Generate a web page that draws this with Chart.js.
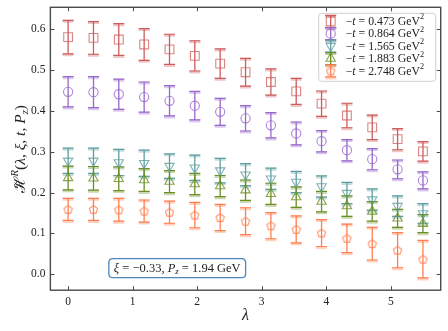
<!DOCTYPE html>
<html>
<head>
<meta charset="utf-8">
<script src="https://cdn.jsdelivr.net/npm/chart.js@4.4.1/dist/chart.umd.min.js"></script>
<style>
  html, body { margin: 0; padding: 0; background: #fff; }
  #wrap { width: 448px; height: 331px; position: relative; }
</style>
</head>
<body>
<div id="wrap"><canvas id="chart"></canvas></div>
<script>
// ----------------- Data -----------------

const lambdas = [0, 0.393, 0.785, 1.178, 1.571, 1.963, 2.356, 2.749, 3.142, 3.534, 3.927, 4.320, 4.712, 5.105, 5.498];

const tValues = ["0.473", "0.864", "1.565", "1.883", "2.748"];

const hR_t0473 = [0.581, 0.579, 0.575, 0.563, 0.551, 0.535, 0.516, 0.495, 0.471, 0.448, 0.418, 0.389, 0.360, 0.331, 0.301];
const err_t0473 = [0.041, 0.040, 0.039, 0.039, 0.037, 0.037, 0.036, 0.034, 0.032, 0.032, 0.031, 0.030, 0.030, 0.026, 0.024];

const hR_t0864 = [0.447, 0.446, 0.441, 0.434, 0.425, 0.413, 0.398, 0.382, 0.365, 0.345, 0.326, 0.304, 0.282, 0.257, 0.230];
const err_t0864 = [0.037, 0.038, 0.037, 0.037, 0.037, 0.035, 0.033, 0.031, 0.031, 0.028, 0.026, 0.026, 0.026, 0.023, 0.021];

const hR_t1565 = [0.278, 0.278, 0.274, 0.272, 0.265, 0.261, 0.254, 0.244, 0.234, 0.226, 0.215, 0.199, 0.183, 0.167, 0.149];
const err_t1565 = [0.031, 0.031, 0.032, 0.032, 0.030, 0.031, 0.030, 0.027, 0.026, 0.026, 0.026, 0.026, 0.026, 0.025, 0.024];

const hR_t1883 = [0.236, 0.235, 0.234, 0.231, 0.227, 0.221, 0.216, 0.206, 0.197, 0.189, 0.178, 0.167, 0.154, 0.137, 0.124];
const err_t1883 = [0.029, 0.029, 0.029, 0.028, 0.027, 0.026, 0.026, 0.025, 0.026, 0.025, 0.025, 0.025, 0.024, 0.022, 0.022];

const hR_t2748 = [0.159, 0.159, 0.158, 0.155, 0.152, 0.145, 0.139, 0.130, 0.119, 0.110, 0.101, 0.088, 0.075, 0.059, 0.037];
const err_t2748 = [0.027, 0.027, 0.028, 0.027, 0.027, 0.031, 0.032, 0.033, 0.032, 0.033, 0.033, 0.035, 0.040, 0.043, 0.046];

const xTicks = [0, 1, 2, 3, 4, 5];
const yTicks = [0.0, 0.1, 0.2, 0.3, 0.4, 0.5, 0.6];

// ----------------- Styles -----------------

const SERIF = '"Liberation Serif", "DejaVu Serif", serif';
const SPINE = "#4a4a4a";

function pentagonImage(color) {
  const c = document.createElement("canvas");
  c.width = 11;
  c.height = 11;
  const g = c.getContext("2d");
  g.strokeStyle = color;
  g.lineWidth = 1.1;
  g.beginPath();
  for (let k = 0; k < 5; k++) {
    const a = -Math.PI / 2 + (k * 2 * Math.PI) / 5;
    const px = 5.5 + 4.3 * Math.cos(a);
    const py = 5.9 + 4.3 * Math.sin(a);
    if (k === 0) g.moveTo(px, py);
    else g.lineTo(px, py);
  }
  g.closePath();
  g.stroke();
  return c;
}

const series = [
  { vals: hR_t0473, errs: err_t0473, color: "#cd5c5c", marker: "rgba(205,92,92,0.75)", style: "rect", radius: 6.2, rotation: 0 },
  { vals: hR_t0864, errs: err_t0864, color: "#9966cc", marker: "rgba(153,102,204,0.8)", style: "circle", radius: 4.6, rotation: 0 },
  { vals: hR_t1565, errs: err_t1565, color: "#5f9ea0", marker: "rgba(95,158,160,0.8)", style: "triangle", radius: 5.4, rotation: 180 },
  { vals: hR_t1883, errs: err_t1883, color: "#6b8e23", marker: "rgba(107,142,35,0.8)", style: "triangle", radius: 5.4, rotation: 0 },
  { vals: hR_t2748, errs: err_t2748, color: "#ff7f50", marker: "rgba(255,127,80,0.85)", style: null, radius: 5, rotation: 0 },
];
series[4].style = pentagonImage(series[4].marker);

// ----------------- Rich text helper -----------------

function segFont(s, size) {
  const fs = s.sup || s.sub ? size * 0.7 : size;
  return `${s.italic ? "italic " : ""}${fs}px ${s.family || SERIF}`;
}

function richWidth(ctx, segs, size) {
  let w = 0;
  segs.forEach((s) => {
    ctx.font = segFont(s, size);
    w += ctx.measureText(s.t).width;
  });
  return w;
}

function drawRich(ctx, segs, x, y, size, align) {
  const total = richWidth(ctx, segs, size);
  let cx = align === "center" ? x - total / 2 : x;
  ctx.textBaseline = "middle";
  ctx.textAlign = "left";
  segs.forEach((s) => {
    ctx.font = segFont(s, size);
    let dy = 0;
    if (s.sup) dy = -size * 0.38;
    if (s.sub) dy = size * 0.25;
    ctx.fillText(s.t, cx, y + dy);
    cx += ctx.measureText(s.t).width;
  });
}

function roundRect(ctx, x, y, w, h, r) {
  ctx.beginPath();
  ctx.moveTo(x + r, y);
  ctx.lineTo(x + w - r, y);
  ctx.quadraticCurveTo(x + w, y, x + w, y + r);
  ctx.lineTo(x + w, y + h - r);
  ctx.quadraticCurveTo(x + w, y + h, x + w - r, y + h);
  ctx.lineTo(x + r, y + h);
  ctx.quadraticCurveTo(x, y + h, x, y + h - r);
  ctx.lineTo(x, y + r);
  ctx.quadraticCurveTo(x, y, x + r, y);
  ctx.closePath();
}

function drawErrBar(ctx, x, yTop, yBot, color, capHalf) {
  ctx.save();
  ctx.strokeStyle = color;
  ctx.lineWidth = 1.3;
  ctx.beginPath();
  ctx.moveTo(x, yTop);
  ctx.lineTo(x, yBot);
  ctx.stroke();
  // caps: soft band + solid line
  ctx.globalAlpha = 0.35;
  ctx.lineWidth = 3;
  ctx.beginPath();
  ctx.moveTo(x - capHalf, yTop + 1);
  ctx.lineTo(x + capHalf, yTop + 1);
  ctx.moveTo(x - capHalf, yBot + 1);
  ctx.lineTo(x + capHalf, yBot + 1);
  ctx.stroke();
  ctx.globalAlpha = 1;
  ctx.lineWidth = 1.2;
  ctx.beginPath();
  ctx.moveTo(x - capHalf, yTop);
  ctx.lineTo(x + capHalf, yTop);
  ctx.moveTo(x - capHalf, yBot);
  ctx.lineTo(x + capHalf, yBot);
  ctx.stroke();
  ctx.restore();
}

function drawMarker(ctx, s, x, y) {
  ctx.save();
  ctx.strokeStyle = s.marker;
  ctx.fillStyle = "rgba(0,0,0,0)";
  ctx.lineWidth = 1.1;
  Chart.helpers.drawPoint(ctx, { pointStyle: s.style, radius: s.radius, rotation: s.rotation, borderWidth: 1.1 }, x, y);
  ctx.restore();
}

// ----------------- Plugin: error bars, frame, legend, labels -----------------

const decorPlugin = {
  id: "decor",
  beforeDatasetsDraw(chart) {
    const ctx = chart.ctx;
    const xs = chart.scales.x;
    const ys = chart.scales.y;
    series.forEach((s) => {
      s.vals.forEach((v, j) => {
        const px = xs.getPixelForValue(lambdas[j]);
        drawErrBar(ctx, px, ys.getPixelForValue(v + s.errs[j]), ys.getPixelForValue(v - s.errs[j]), s.color, 5.5);
      });
    });
  },
  afterDraw(chart) {
    const ctx = chart.ctx;
    const a = chart.chartArea;
    const xs = chart.scales.x;
    const ys = chart.scales.y;

    // frame + inward ticks
    ctx.save();
    ctx.strokeStyle = SPINE;
    ctx.lineWidth = 1.4;
    ctx.strokeRect(a.left, a.top, a.right - a.left, a.bottom - a.top);
    ctx.lineWidth = 1;
    ctx.beginPath();
    xTicks.forEach((t) => {
      const px = Math.round(xs.getPixelForValue(t)) + 0.5;
      ctx.moveTo(px, a.bottom);
      ctx.lineTo(px, a.bottom - 4);
      ctx.moveTo(px, a.top);
      ctx.lineTo(px, a.top + 4);
    });
    yTicks.forEach((t) => {
      const py = Math.round(ys.getPixelForValue(t)) + 0.5;
      ctx.moveTo(a.left, py);
      ctx.lineTo(a.left + 4, py);
      ctx.moveTo(a.right, py);
      ctx.lineTo(a.right - 4, py);
    });
    ctx.stroke();
    ctx.restore();

    // legend
    ctx.save();
    const lgRight = a.right - 5;
    const lgTop = a.top + 6;
    const lgW = 117;
    const rowH = 12.4;
    const lgH = rowH * series.length + 6;
    roundRect(ctx, lgRight - lgW, lgTop, lgW, lgH, 3);
    ctx.fillStyle = "rgba(255,255,255,0.85)";
    ctx.fill();
    ctx.strokeStyle = "#d0d0d0";
    ctx.lineWidth = 1;
    ctx.stroke();
    series.forEach((s, i) => {
      const cy = lgTop + 8 + i * rowH;
      const mx = lgRight - lgW + 12;
      drawErrBar(ctx, mx, cy - 6, cy + 6, s.color, 5.5);
      drawMarker(ctx, s, mx, cy);
      ctx.fillStyle = "#222";
      drawRich(ctx, [
        { t: "\u2212" },
        { t: "t", italic: true },
        { t: " = " + tValues[i] + " GeV" },
        { t: "2", sup: true },
      ], mx + 15, cy + 0.5, 11.8, "left");
    });
    ctx.restore();

    // annotation box
    ctx.save();
    const segs = [
      { t: "\u03be", italic: true },
      { t: " = \u22120.33, " },
      { t: "P", italic: true },
      { t: "z", italic: true, sub: true },
      { t: " = 1.94 GeV" },
    ];
    const bx = a.left + (a.right - a.left) * 0.325;
    const by = a.bottom - (a.bottom - a.top) * 0.078;
    const tw = richWidth(ctx, segs, 12.5);
    roundRect(ctx, bx - tw / 2 - 5, by - 9.5, tw + 10, 19, 4);
    ctx.fillStyle = "#fff";
    ctx.fill();
    ctx.strokeStyle = "#4f87b8";
    ctx.lineWidth = 1.3;
    ctx.stroke();
    ctx.fillStyle = "#222";
    drawRich(ctx, segs, bx, by + 0.5, 12.5, "center");
    ctx.restore();

    // x title
    ctx.save();
    ctx.fillStyle = "#222";
    ctx.font = `italic 16px ${SERIF}`;
    ctx.textAlign = "center";
    ctx.textBaseline = "middle";
    ctx.fillText("\u03bb", (a.left + a.right) / 2, chart.height - 15);
    ctx.restore();

    // y title
    ctx.save();
    ctx.translate(21, (a.top + a.bottom) / 2);
    ctx.rotate(-Math.PI / 2);
    ctx.fillStyle = "#222";
    const ySegs = [
      { t: "\u210b", family: '"DejaVu Serif", serif' },
      { t: "R", italic: true, sup: true },
      { t: "(" },
      { t: "\u03bb", italic: true },
      { t: ", " },
      { t: "\u03be", italic: true },
      { t: ", " },
      { t: "t", italic: true },
      { t: ", " },
      { t: "P", italic: true },
      { t: "z", italic: true, sub: true },
      { t: ")" },
    ];
    const ySize = 15.5;
    const yw = richWidth(ctx, ySegs, ySize);
    drawRich(ctx, ySegs, 0, 0, ySize, "center");
    ctx.font = segFont(ySegs[0], ySize);
    const hw = ctx.measureText(ySegs[0].t).width;
    ctx.font = `${ySize}px ${SERIF}`;
    ctx.textAlign = "center";
    ctx.textBaseline = "alphabetic";
    ctx.fillText("~", -yw / 2 + hw / 2 + 1, -0.5);
    ctx.restore();
  },
};

// ----------------- Chart -----------------

const datasets = series.map((s, i) => ({
  label: "-t = " + tValues[i] + " GeV^2",
  data: lambdas.map((x, j) => ({ x, y: s.vals[j] })),
  showLine: false,
  pointStyle: s.style,
  pointRadius: s.radius,
  pointRotation: s.rotation,
  pointBorderWidth: 1.1,
  pointBorderColor: s.marker,
  pointBackgroundColor: "rgba(0,0,0,0)",
}));

const tickFont = { family: SERIF, size: 11.5 };

function noEdgePadding(sc) {
  sc.paddingTop = 0;
  sc.paddingBottom = 0;
  sc.paddingLeft = 0;
  sc.paddingRight = 0;
}

new Chart(document.getElementById("chart"), {
  type: "scatter",
  data: { datasets },
  options: {
    responsive: true,
    maintainAspectRatio: false,
    animation: false,
    devicePixelRatio: 1,
    layout: { padding: { left: 26, right: 7, top: 7, bottom: 17 } },
    plugins: { legend: { display: false }, tooltip: { enabled: false } },
    scales: {
      x: {
        type: "linear",
        min: -0.275,
        max: 5.773,
        afterBuildTicks: (sc) => { sc.ticks = xTicks.map((v) => ({ value: v })); },
        afterFit: noEdgePadding,
        ticks: { font: tickFont, color: "#222", padding: 5, autoSkip: false, maxRotation: 0, callback: (v) => String(v) },
        grid: { display: false, drawTicks: false },
        border: { display: false },
      },
      y: {
        type: "linear",
        min: -0.039,
        max: 0.654,
        afterBuildTicks: (sc) => { sc.ticks = yTicks.map((v) => ({ value: v })); },
        afterFit: noEdgePadding,
        ticks: { font: tickFont, color: "#222", padding: 5, autoSkip: false, callback: (v) => v.toFixed(1) },
        grid: { display: false, drawTicks: false },
        border: { display: false },
      },
    },
  },
  plugins: [decorPlugin],
});
</script>
</body>
</html>
